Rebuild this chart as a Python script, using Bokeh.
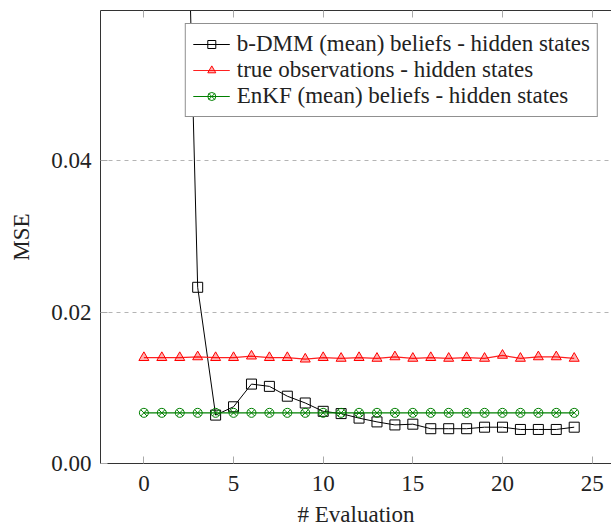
from bokeh.plotting import figure
from bokeh.models import (Range1d, FixedTicker, LinearAxis, Legend, LegendItem,
                          NumeralTickFormatter)
from bokeh.embed import file_html
from bokeh.resources import INLINE

evaluation = list(range(25))
bdmm_mse = [0.35, 0.2, 0.115, 0.0233, 0.0064, 0.0075, 0.0105, 0.0102, 0.0089, 0.0080,
            0.0069, 0.0066, 0.0060, 0.0055, 0.0051, 0.0052, 0.0046, 0.0046, 0.0046,
            0.0048, 0.0048, 0.0045, 0.0045, 0.0045, 0.0048]
true_obs_mse = [0.0140, 0.0140, 0.0140, 0.0141, 0.0140, 0.0140, 0.0142, 0.0140, 0.0140,
                0.0138, 0.0140, 0.0139, 0.0140, 0.0139, 0.0141, 0.0139, 0.0140, 0.0139,
                0.0140, 0.0139, 0.0143, 0.0139, 0.0141, 0.0141, 0.0139]
enkf_mse = [0.0067] * 25
x_ticks = [0, 5, 10, 15, 20, 25]
y_ticks = [0.0, 0.02, 0.04]

FONT = "'Liberation Serif', serif"
FS = "23px"

p = figure(width=611, height=529, output_backend="svg", toolbar_location=None,
           x_range=Range1d(-2.42, 26.08), y_range=Range1d(0, 0.0599),
           min_border_left=100, min_border_right=0, min_border_top=10, min_border_bottom=66)
p.outline_line_color = None
p.xgrid.grid_line_color = None
p.ygrid.grid_line_color = "#b4b4b4"
p.ygrid.grid_line_dash = "4 4"
p.ygrid.ticker = FixedTicker(ticks=y_ticks)

for ax in (p.xaxis[0], p.yaxis[0]):
    ax.axis_line_color = "#333333"
    ax.major_tick_in = 7
    ax.major_tick_out = 0
    ax.major_tick_line_color = "#aaaaaa"
    ax.minor_tick_line_color = None
    ax.major_label_text_font = FONT
    ax.major_label_text_font_size = FS
    ax.major_label_text_color = "#222222"
    ax.axis_label_text_font = FONT
    ax.axis_label_text_font_size = FS
    ax.axis_label_text_font_style = "normal"
    ax.axis_label_text_color = "#222222"

p.xaxis.ticker = FixedTicker(ticks=x_ticks)
p.yaxis.ticker = FixedTicker(ticks=y_ticks)
p.yaxis.formatter = NumeralTickFormatter(format="0.00")
p.xaxis.axis_label = "# Evaluation"
p.yaxis.axis_label = "MSE"
p.xaxis.major_label_text_line_height = 0.8
p.xaxis.axis_label_text_line_height = 0.8
p.xaxis.major_label_standoff = 12
p.xaxis.axis_label_standoff = 8
p.yaxis.major_label_standoff = 9
p.yaxis.axis_label_standoff = 14

top = LinearAxis(ticker=FixedTicker(ticks=x_ticks),
                 major_label_overrides={t: "" for t in x_ticks},
                 major_label_standoff=0, major_label_text_font_size="1px",
                 major_tick_in=7, major_tick_out=0, major_tick_line_color="#aaaaaa",
                 minor_tick_line_color=None, axis_line_color="#333333")
p.add_layout(top, "above")

r1l = p.line(evaluation, bdmm_mse, line_color="black", line_width=1)
r1m = p.scatter(evaluation, bdmm_mse, marker="square", size=10, fill_color=None,
                line_color="black", line_width=1)
r2l = p.line(evaluation, true_obs_mse, line_color="#ff2020", line_width=1.2)
r2m = p.scatter(evaluation, true_obs_mse, marker="triangle", size=10, fill_color="#ff0000",
                fill_alpha=0.3, line_color="#ff0000", line_width=1)
r3l = p.line(evaluation, enkf_mse, line_color="#008000", line_width=1.2)
r3m = p.scatter(evaluation, enkf_mse, marker="circle_x", size=9, fill_color=None,
                line_color="#008000", line_width=1)

legend = Legend(items=[
    LegendItem(label="b-DMM (mean) beliefs - hidden states", renderers=[r1l, r1m]),
    LegendItem(label="true observations - hidden states", renderers=[r2l, r2m]),
    LegendItem(label="EnKF (mean) beliefs - hidden states", renderers=[r3l, r3m]),
], location="top_right")
legend.label_text_font = FONT
legend.label_text_font_size = FS
legend.label_text_line_height = 0.9
legend.label_text_color = "#222222"
legend.border_line_color = "#222222"
legend.border_line_width = 1
legend.background_fill_alpha = 1
legend.glyph_width = 37
legend.glyph_height = 20
legend.label_height = 20
legend.spacing = 0
legend.padding = 7
legend.margin = 13
legend.label_standoff = 7
p.add_layout(legend, "center")

open("out.html", "w").write(file_html(p, INLINE))
